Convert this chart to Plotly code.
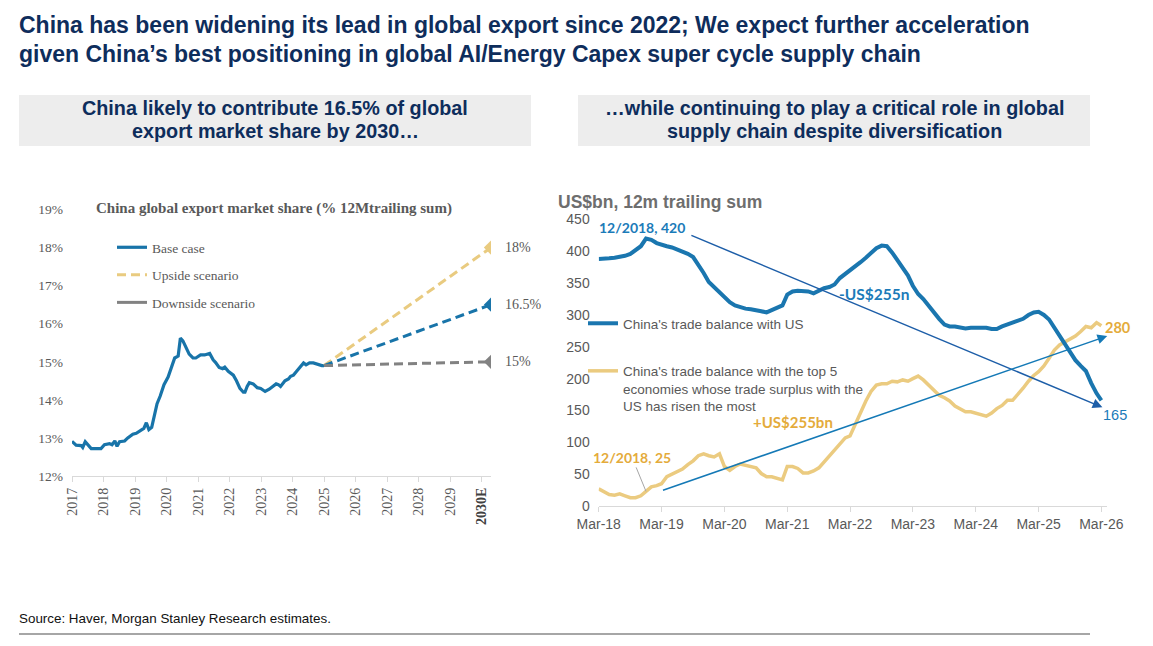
import plotly.graph_objects as go
import pandas as pd

W, H = 1153, 646

# ---------------- Left chart data ----------------
hist_years = [2017.00, 2017.13, 2017.29, 2017.34, 2017.42, 2017.61, 2017.92, 2018.03, 2018.19,
              2018.27, 2018.36, 2018.43, 2018.51, 2018.67, 2018.77, 2018.93, 2019.04, 2019.20,
              2019.28, 2019.36, 2019.44, 2019.53, 2019.62, 2019.70, 2019.80, 2019.92, 2020.05,
              2020.15, 2020.26, 2020.37, 2020.44, 2020.52, 2020.63, 2020.72, 2020.84, 2020.93,
              2021.08, 2021.21, 2021.37, 2021.48, 2021.56, 2021.67, 2021.78, 2021.85, 2021.96,
              2022.12, 2022.22, 2022.33, 2022.44, 2022.49, 2022.56, 2022.63, 2022.75, 2022.88,
              2022.99, 2023.13, 2023.26, 2023.37, 2023.48, 2023.55, 2023.62, 2023.76, 2023.87,
              2023.94, 2024.03, 2024.13, 2024.26, 2024.35, 2024.43, 2024.54, 2024.66, 2024.79,
              2024.93, 2025.00]
hist_share = [12.91, 12.81, 12.80, 12.75, 12.90, 12.72, 12.72, 12.82, 12.85,
              12.82, 12.92, 12.78, 12.90, 12.92, 13.00, 13.10, 13.12, 13.20,
              13.25, 13.40, 13.22, 13.28, 13.60, 13.90, 14.10, 14.40, 14.60,
              14.85, 15.10, 15.15, 15.62, 15.55, 15.35, 15.20, 15.10, 15.10,
              15.18, 15.18, 15.22, 15.05, 14.98, 14.85, 14.82, 14.86, 14.75,
              14.65, 14.50, 14.30, 14.20, 14.20, 14.35, 14.45, 14.42, 14.32,
              14.30, 14.22, 14.28, 14.35, 14.42, 14.40, 14.35, 14.50, 14.55,
              14.62, 14.65, 14.75, 14.90, 14.97, 14.92, 14.97, 14.97, 14.93,
              14.90, 14.90]
proj_years = [2025.0, 2030.3]
base_proj = [14.9, 16.5]
upside_proj = [14.9, 18.0]
downside_proj = [14.9, 15.0]
end_labels = ["18%", "16.5%", "15%"]
year_ticks = list(range(2017, 2031))
year_ticklabels = [str(y) for y in range(2017, 2030)] + ["<b><span style='color:#404040'>2030E</span></b>"]

# ---------------- Right chart data ----------------
months = pd.date_range("2018-03-01", periods=97, freq="MS")
us_balance = [388, 388, 389, 390, 391, 393, 396, 401, 408, 420,
              418, 413, 410, 408, 406, 403, 400, 396, 391, 380,
              366, 352, 344, 336, 329, 320, 315, 312, 310, 309,
              308, 306, 304, 308, 311, 315, 332, 337, 338, 337,
              337, 334, 338, 342, 344, 348, 358, 364, 371, 377,
              383, 390, 398, 405, 409, 408, 398, 386, 375, 362,
              346, 333, 325, 314, 304, 294, 285, 282, 282, 281,
              279, 280, 280, 280, 280, 278, 278, 282, 285, 288,
              290, 294, 300, 304, 305, 300, 293, 280, 266, 252,
              240, 229, 220, 212, 193, 177, 166]
top5_balance = [27, 22, 18, 17, 19, 16, 13, 13, 16, 23,
                30, 32, 35, 46, 50, 55, 58, 65, 71, 79,
                82, 79, 77, 82, 62, 56, 62, 66, 64, 62,
                60, 51, 46, 46, 43, 41, 62, 62, 59, 52,
                52, 55, 60, 69, 80, 88, 98, 107, 110, 128,
                148, 165, 180, 190, 192, 192, 196, 195, 198, 196,
                200, 204, 198, 190, 181, 174, 170, 165, 157, 153,
                148, 148, 146, 143, 141, 146, 153, 158, 166, 166,
                175, 185, 196, 205, 211, 220, 232, 245, 253, 258,
                263, 267, 274, 282, 280, 288, 283]

# ---------------- Styles ----------------
NAVY = "#0E2D5C"
BLUE = "#1874A9"
GOLD_L = "#E9CB80"
GRAY_L = "#828282"
R_BLUE = "#1A76AF"
R_GOLD = "#EBCB80"
TXT_BLUE = "#1B7BB9"
TXT_GOLD = "#E4AB3B"
ARROW1 = "#1D5EA8"
ARROW2 = "#1479B6"
SERIF = "Liberation Serif, Times New Roman, serif"
SANS = "Liberation Sans, Arial, sans-serif"
CAL = "Lato, Carlito, sans-serif"
TICKGRAY = "#595959"
AXGRAY = "#D9D9D9"


def px(x):
    return x / W


def py(y):
    return 1 - y / H


fig = go.Figure()

# ---- Left chart traces ----
fig.add_trace(go.Scatter(x=hist_years, y=hist_share, mode="lines", name="Base case",
                         line=dict(color=BLUE, width=3.2), legend="legend", legendgroup="a",
                         xaxis="x", yaxis="y"))
fig.add_trace(go.Scatter(x=proj_years, y=upside_proj, mode="lines", name="Upside scenario",
                         line=dict(color=GOLD_L, width=3, dash="9px,5px"), legend="legend",
                         legendgroup="b", xaxis="x", yaxis="y"))
fig.add_trace(go.Scatter(x=proj_years, y=base_proj, mode="lines", showlegend=False,
                         line=dict(color=BLUE, width=3, dash="9px,5px"), xaxis="x", yaxis="y"))
fig.add_trace(go.Scatter(x=proj_years, y=downside_proj, mode="lines", showlegend=False,
                         line=dict(color=GRAY_L, width=3, dash="9px,5px"), xaxis="x", yaxis="y"))
fig.add_trace(go.Scatter(x=[None], y=[None], mode="lines", name="Downside scenario",
                         line=dict(color=GRAY_L, width=3), legend="legend", legendgroup="c",
                         xaxis="x", yaxis="y"))
fig.add_trace(go.Scatter(x=[proj_years[-1]] * 3,
                         y=[upside_proj[-1], base_proj[-1], downside_proj[-1]],
                         mode="markers", showlegend=False,
                         marker=dict(symbol="diamond", size=11, color=[GOLD_L, BLUE, GRAY_L]),
                         xaxis="x", yaxis="y"))

# ---- Right chart traces ----
fig.add_trace(go.Scatter(x=months, y=top5_balance, mode="lines",
                         name="China's trade balance with the top 5<br>economies whose trade surplus with the<br>US has risen the most",
                         line=dict(color=R_GOLD, width=3.5), legend="legend2", legendgroup="g2",
                         legendrank=2, xaxis="x2", yaxis="y2"))
fig.add_trace(go.Scatter(x=months, y=us_balance, mode="lines",
                         name="China's trade balance with US",
                         line=dict(color=R_BLUE, width=4), legend="legend2", legendgroup="g1",
                         legendrank=1, xaxis="x2", yaxis="y2"))

annotations = []


def text_ann(x, y, text, font, xanchor="left"):
    annotations.append(dict(x=px(x), y=py(y), xref="paper", yref="paper", xanchor=xanchor,
                            yanchor="middle", showarrow=False, text=text, font=font))


# Titles
TFONT = dict(family=SANS, size=23, color=NAVY)
text_ann(17, 25, "<b>China has been widening its lead in global export since 2022; We expect further acceleration</b>", TFONT)
text_ann(17, 54, "<b>given China\u2019s best positioning in global AI/Energy Capex super cycle supply chain</b>", TFONT)
SFONT = dict(family=SANS, size=19.8, color=NAVY)
text_ann(275, 108, "<b>China likely to contribute 16.5% of global</b>", SFONT, "center")
text_ann(275, 131, "<b>export market share by 2030\u2026</b>", SFONT, "center")
text_ann(834, 108, "<b>\u2026while continuing to play a critical role in global</b>", SFONT, "center")
text_ann(834, 131, "<b>supply chain despite diversification</b>", SFONT, "center")
text_ann(17, 618, "Source: Haver, Morgan Stanley Research estimates.",
         dict(family=SANS, size=13.4, color="#111111"))
# Left chart title
text_ann(94, 209, "<b>China global export market share (% 12Mtrailing sum)</b>",
         dict(family=SERIF, size=15, color=TICKGRAY))
# Right y title
text_ann(556, 202, "<b>US$bn, 12m trailing sum</b>", dict(family=SANS, size=17.5, color="#6E6E6E"))

# Left end labels
for val, lab in zip([upside_proj[-1], base_proj[-1], downside_proj[-1]], end_labels):
    annotations.append(dict(x=proj_years[-1], y=val, xref="x", yref="y", xanchor="left", yanchor="middle",
                            xshift=12, showarrow=False, text=lab,
                            font=dict(family=SERIF, size=14, color=TICKGRAY)))

# Right chart arrows
annotations.append(dict(x="2026-03-07", y=155, ax="2019-08-13", ay=426, xref="x2", yref="y2",
                        axref="x2", ayref="y2", showarrow=True, arrowhead=2, arrowsize=1.3,
                        arrowwidth=1.5, arrowcolor=ARROW1, standoff=0, text=""))
annotations.append(dict(x="2026-04-04", y=267, ax="2019-03-01", ay=24, xref="x2", yref="y2",
                        axref="x2", ayref="y2", showarrow=True, arrowhead=2, arrowsize=1.3,
                        arrowwidth=1.5, arrowcolor=ARROW2, standoff=0, text=""))
# Right chart labels
annotations.append(dict(x="2018-03-01", y=437, xref="x2", yref="y2", xanchor="left", yanchor="middle",
                        xshift=-2, showarrow=False, text="<b>12/2018, 420</b>",
                        font=dict(family=CAL, size=14, color=TXT_BLUE)))
annotations.append(dict(x="2022-07-22", y=333, xref="x2", yref="y2", xanchor="center", yanchor="middle",
                        showarrow=False, text="<b>-US$255n</b>",
                        font=dict(family=CAL, size=15.5, color=TXT_BLUE)))
annotations.append(dict(x="2021-04-04", y=132, xref="x2", yref="y2", xanchor="center", yanchor="middle",
                        showarrow=False, text="<b>+US$255bn</b>",
                        font=dict(family=CAL, size=15, color=TXT_GOLD)))
annotations.append(dict(x=months[9], y=top5_balance[9], xref="x2", yref="y2", ax=-14, ay=-34,
                        showarrow=True, arrowhead=0, arrowwidth=1, arrowcolor="#A6A6A6", standoff=0,
                        text="<b>12/2018, 25</b>",
                        font=dict(family=CAL, size=14, color=TXT_GOLD)))
annotations.append(dict(x=months[-1], y=top5_balance[-1], xref="x2", yref="y2", xanchor="left",
                        yanchor="middle", xshift=2, yshift=-2, showarrow=False, text="<b>280</b>",
                        font=dict(family=CAL, size=14.5, color=TXT_GOLD)))
annotations.append(dict(x=months[-1], y=us_balance[-1], xref="x2", yref="y2", xanchor="left",
                        yanchor="middle", xshift=0, yshift=-15, showarrow=False, text="165",
                        font=dict(family=SANS, size=14.5, color=TXT_BLUE)))

shapes = [
    dict(type="rect", xref="paper", yref="paper", x0=px(19), x1=px(531), y0=py(146), y1=py(95),
         fillcolor="#EDEDED", line=dict(width=0), layer="below"),
    dict(type="rect", xref="paper", yref="paper", x0=px(578), x1=px(1090), y0=py(146), y1=py(95),
         fillcolor="#EDEDED", line=dict(width=0), layer="below"),
    dict(type="line", xref="paper", yref="paper", x0=px(19), x1=px(1090), y0=py(634), y1=py(634),
         line=dict(color="#A6A6A6", width=2)),
]

fig.update_layout(
    width=W, height=H, margin=dict(l=0, r=0, t=0, b=0, autoexpand=False),
    paper_bgcolor="white", plot_bgcolor="white",
    annotations=annotations, shapes=shapes,
    xaxis=dict(domain=[px(72), px(491)], range=[2017, 2030.3], tickvals=year_ticks,
               ticktext=year_ticklabels, tickangle=-90, ticks="outside", ticklen=5,
               tickcolor=AXGRAY, showline=True, linecolor=AXGRAY, linewidth=1.3,
               showgrid=False, zeroline=False, anchor="y", automargin=False,
               tickfont=dict(family=SERIF, size=14, color=TICKGRAY)),
    yaxis=dict(domain=[py(476), py(209.5)], range=[12, 19], dtick=1, ticksuffix="%",
               showgrid=False, zeroline=False, showline=False, anchor="x", automargin=False,
               ticklabelstandoff=8,
               tickfont=dict(family=SERIF, size=13.5, color=TICKGRAY)),
    xaxis2=dict(domain=[px(598.7), px(1106.7)], type="date",
                range=["2018-03-01", "2026-04-01"], tick0="2018-03-01", dtick="M12",
                tickformat="%b-%y", ticks="outside", ticklen=5, tickcolor=AXGRAY,
                showline=True, linecolor=AXGRAY, linewidth=1.3, showgrid=False,
                zeroline=False, anchor="y2", automargin=False,
                tickfont=dict(family=SANS, size=14, color=TICKGRAY)),
    yaxis2=dict(domain=[py(506), py(219.5)], range=[0, 450], dtick=50,
                showgrid=False, zeroline=False, showline=False, anchor="x2", automargin=False,
                ticklabelstandoff=8,
                tickfont=dict(family=SANS, size=14, color=TICKGRAY)),
    legend=dict(x=px(112), y=py(232), xanchor="left", yanchor="top",
                bgcolor="rgba(0,0,0,0)", tracegroupgap=7, traceorder="grouped",
                font=dict(family=SERIF, size=13.5, color=TICKGRAY)),
    legend2=dict(x=px(583), y=py(308), xanchor="left", yanchor="top",
                 bgcolor="rgba(0,0,0,0)", tracegroupgap=27, traceorder="grouped", valign="top",
                 font=dict(family=SANS, size=13.5, color=TICKGRAY)),
)

fig.write_html("out.html")
